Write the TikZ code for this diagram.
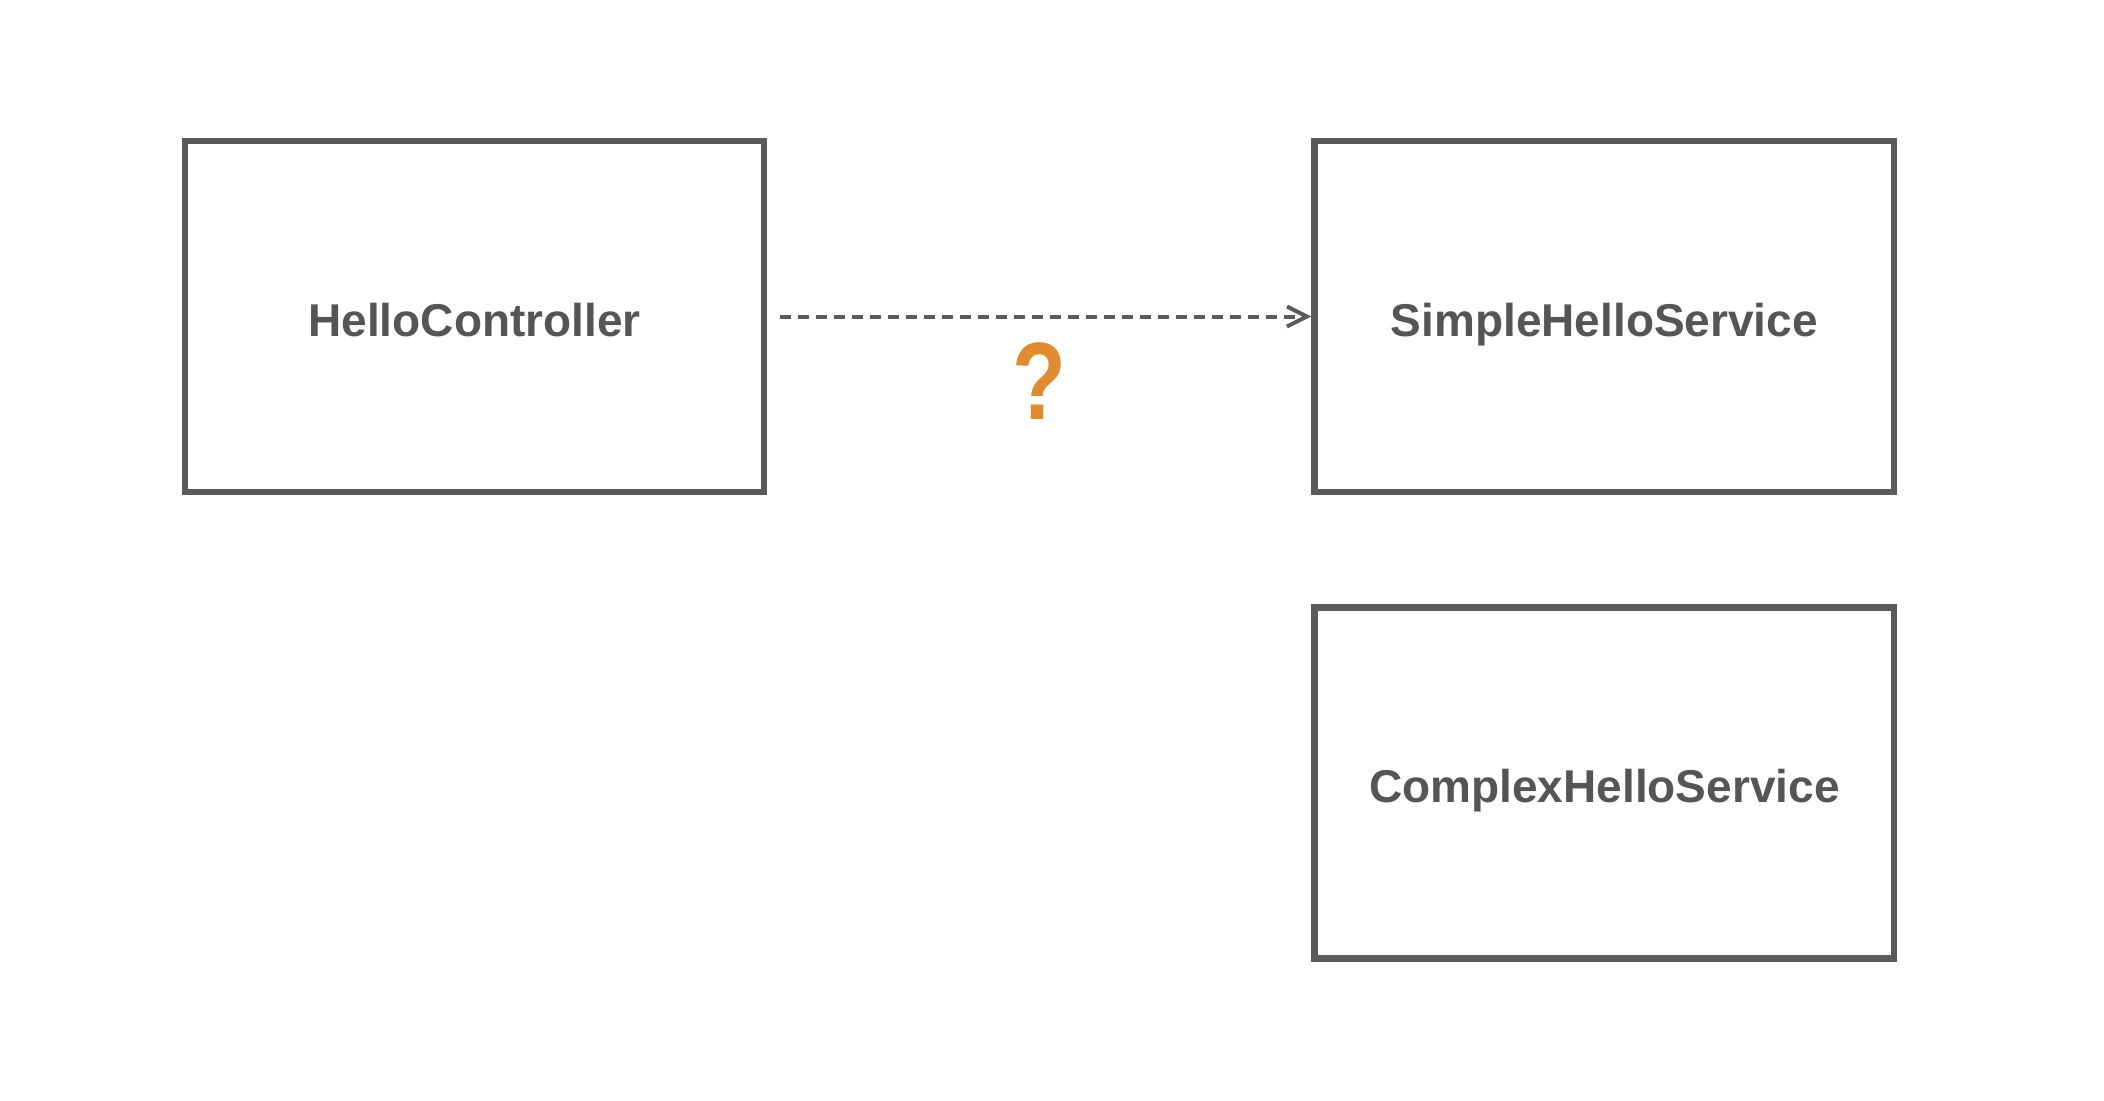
\documentclass[tikz,border=0pt]{standalone}
\usepackage{fontspec}
\setmainfont{Liberation Sans}
\usetikzlibrary{arrows.meta,positioning}
\definecolor{boxgray}{HTML}{5A5A5A}
\definecolor{textgray}{HTML}{555555}
\definecolor{askorange}{HTML}{E08B2F}

\begin{document}
\begin{tikzpicture}[x=0.5pt,y=-0.5pt,
        class box/.style={rectangle,draw=boxgray,line width=3.2pt,
            minimum width=289.75pt,minimum height=175.5pt,
            text height=19.5pt,text depth=0pt,
            text=textgray,font=\fontsize{23}{28}\selectfont\bfseries},
        depends/.style={draw=boxgray,line width=2pt,dash pattern=on 5.5pt off 3.5pt,
            shorten <=6.5pt,-{Straight Barb[length=10pt,width=10pt]}},
        ask/.style={text=askorange,font=\fontsize{55}{60}\selectfont\bfseries,
            inner sep=0pt,xscale=0.8,transform shape}]
    \useasboundingbox (0,0) rectangle (2104,1100);
    \node[class box] (ctrl) at (474.5,316.5) {HelloController};
    \node[class box] (simple) [right=272pt of ctrl] {SimpleHelloService};
    \node[class box] (complex) [below=54.5pt of simple] {ComplexHelloService};
    \node[ask] (q) at (1039,381) {?};
    \path[depends] (ctrl) -- (simple);
\end{tikzpicture}
\end{document}
